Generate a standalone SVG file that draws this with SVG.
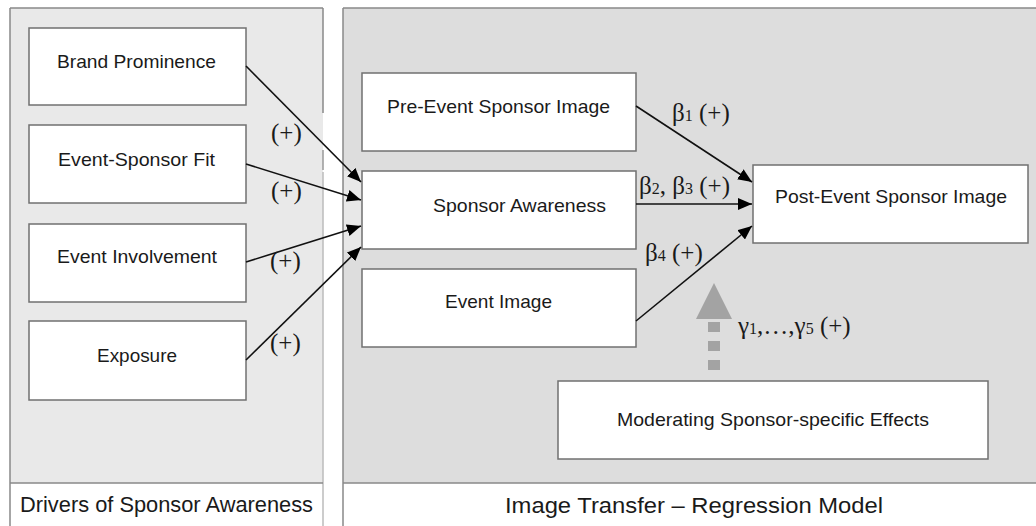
<svg xmlns="http://www.w3.org/2000/svg" width="1036" height="526" viewBox="0 0 1036 526">
<defs>
<style>
.box{fill:#ffffff;stroke:#707070;stroke-width:1.5}
.t{font-family:"Liberation Sans",Arial,sans-serif;font-size:19px;fill:#1a1a1a;text-anchor:middle}
.cap{font-family:"Liberation Sans",Arial,sans-serif;font-size:22px;fill:#1a1a1a;text-anchor:middle}
.lbl{font-family:"Liberation Serif","Times New Roman",serif;font-size:25px;fill:#1a1a1a}
.sub{font-size:16px}
.edge{stroke:#111;stroke-width:1.6;fill:none;marker-end:url(#ah)}
.frame{stroke:#888;stroke-width:1.5;fill:none}
</style>
<marker id="ah" viewBox="0 0 14 12" refX="14" refY="6" markerWidth="14" markerHeight="12" markerUnits="userSpaceOnUse" orient="auto">
<path d="M0,0 L14,6 L0,12 Z" fill="#000"/>
</marker>
</defs>
<rect width="1036" height="526" fill="#ffffff"/>
<g id="panel-drivers">
<rect x="10" y="8" width="313" height="475" fill="#e9e9e9"/>
<line class="frame" x1="10" y1="8" x2="323" y2="8"/>
<line class="frame" x1="10" y1="8" x2="10" y2="526"/>
<line class="frame" x1="323" y1="8" x2="323" y2="113"/>
<line x1="323" y1="150" x2="323" y2="170" stroke="#999" stroke-width="1.5"/>
<line x1="323" y1="172" x2="323" y2="526" stroke="#bbb" stroke-width="1.5"/>
<line class="frame" x1="10" y1="483" x2="323" y2="483"/>
<text class="cap" x="166.5" y="512" textLength="293" lengthAdjust="spacingAndGlyphs">Drivers of Sponsor Awareness</text>
</g>
<g id="panel-transfer">
<rect x="343" y="8" width="693" height="475" fill="#dddddd"/>
<rect x="344" y="171" width="18" height="79" fill="#e8e8e8"/>
<line class="frame" x1="343" y1="8" x2="1036" y2="8"/>
<line class="frame" x1="343" y1="8" x2="343" y2="526"/>
<line class="frame" x1="343" y1="483" x2="1036" y2="483"/>
<text class="cap" x="694" y="513" textLength="378" lengthAdjust="spacingAndGlyphs">Image Transfer – Regression Model</text>
</g>
<g id="n-brand"><rect class="box" x="29" y="28" width="217" height="77"/><text class="t" x="136.5" y="68" textLength="159" lengthAdjust="spacingAndGlyphs">Brand Prominence</text></g>
<g id="n-fit"><rect class="box" x="29" y="125" width="217" height="78"/><text class="t" x="136.5" y="166" textLength="157" lengthAdjust="spacingAndGlyphs">Event-Sponsor Fit</text></g>
<g id="n-involvement"><rect class="box" x="29" y="224" width="217" height="78"/><text class="t" x="137" y="263" textLength="160" lengthAdjust="spacingAndGlyphs">Event Involvement</text></g>
<g id="n-exposure"><rect class="box" x="29" y="321" width="217" height="79"/><text class="t" x="137" y="362" textLength="80" lengthAdjust="spacingAndGlyphs">Exposure</text></g>
<g id="n-pre"><rect class="box" x="362" y="73" width="274" height="78"/><text class="t" x="498.5" y="113" textLength="223" lengthAdjust="spacingAndGlyphs">Pre-Event Sponsor Image</text></g>
<g id="n-awareness"><rect class="box" x="362" y="171" width="274" height="78"/><text class="t" x="519.5" y="212" textLength="173" lengthAdjust="spacingAndGlyphs">Sponsor Awareness</text></g>
<g id="n-eventimage"><rect class="box" x="362" y="269" width="274" height="78"/><text class="t" x="498.5" y="308" textLength="107" lengthAdjust="spacingAndGlyphs">Event Image</text></g>
<g id="n-post"><rect class="box" x="753" y="165" width="275" height="78"/><text class="t" x="891" y="203" textLength="232" lengthAdjust="spacingAndGlyphs">Post-Event Sponsor Image</text></g>
<g id="n-moderating"><rect class="box" x="558" y="381" width="430" height="78"/><text class="t" x="773" y="426" textLength="312" lengthAdjust="spacingAndGlyphs">Moderating Sponsor-specific Effects</text></g>
<g id="connectors">
<line class="edge" x1="246" y1="66" x2="361" y2="182"/>
<line class="edge" x1="246" y1="164" x2="361" y2="200"/>
<line class="edge" x1="246" y1="262" x2="361" y2="226"/>
<line class="edge" x1="246" y1="360" x2="361" y2="247"/>
<line class="edge" x1="636" y1="106" x2="752" y2="182"/>
<line class="edge" x1="636" y1="204" x2="752" y2="204"/>
<line class="edge" x1="636" y1="321" x2="752" y2="226"/>
<g id="moderation-arrow">
<line x1="714" y1="370" x2="714" y2="318" stroke="#a3a3a3" stroke-width="12" stroke-dasharray="10 9"/>
<polygon points="714,283 732,319 696,319" fill="#a3a3a3"/>
</g>
<text class="lbl" x="271" y="141">(+)</text>
<text class="lbl" x="271" y="199">(+)</text>
<text class="lbl" x="270" y="269">(+)</text>
<text class="lbl" x="270" y="351">(+)</text>
<text class="lbl" x="672" y="121">β<tspan class="sub">1</tspan> (+)</text>
<text class="lbl" x="639" y="194">β<tspan class="sub">2</tspan>, β<tspan class="sub">3</tspan> (+)</text>
<text class="lbl" x="645" y="261">β<tspan class="sub">4</tspan> (+)</text>
<text class="lbl" x="738" y="334">γ<tspan class="sub">1</tspan>,…,γ<tspan class="sub">5</tspan> (+)</text>
</g>
</svg>
